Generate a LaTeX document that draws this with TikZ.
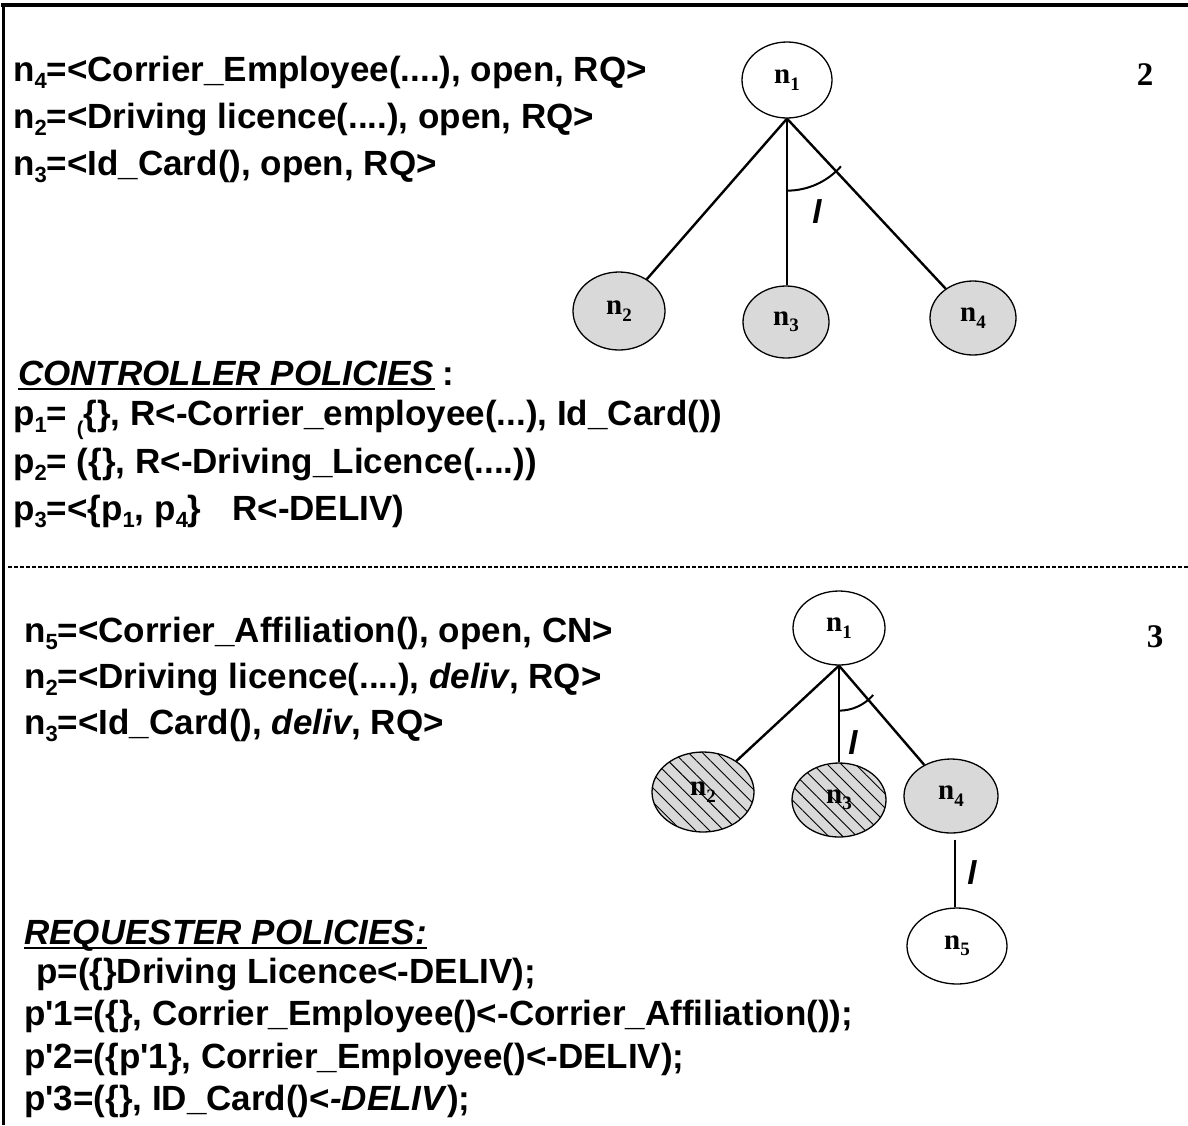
\documentclass[tikz,border=0pt]{standalone}
\usepackage{fontspec}
\setmainfont{Liberation Sans}
\newfontfamily\treefont{Liberation Serif}
\usetikzlibrary{shapes.geometric,patterns.meta,calc}

% lowered index, size given as optional argument
\newcommand\lo[2][22]{\raisebox{-0.22em}{\fontsize{#1}{#1}\selectfont #2}}

\begin{document}
\begin{tikzpicture}[x=1pt,y=-1pt,
  txt/.style={anchor=base west, inner sep=0pt, font=\fontsize{35}{40}\selectfont\bfseries},
  head/.style={txt, font=\fontsize{35}{40}\selectfont\bfseries\itshape},
  tnode/.style={ellipse, draw, line width=1.3pt, inner sep=0pt,
                font=\treefont\fontsize{29}{29}\selectfont\bfseries},
  opennode/.style={tnode, fill=white},
  greynode/.style={tnode, fill=gray!30},
  hatchnode/.style={tnode, preaction={fill=gray!30},
                    pattern={Lines[angle=-45,distance=10pt,line width=0.9pt]}},
  link/.style={line width=2.4pt},
  andarc/.style={line width=2pt},
  slashmark/.style={inner sep=0pt, font=\fontsize{33}{33}\selectfont\bfseries\itshape},
  stage/.style={inner sep=0pt, font=\treefont\fontsize{33}{33}\selectfont\bfseries}]

\useasboundingbox (0,0) rectangle (1188,1125);

% frame: top and left rules
\draw[line width=4pt] (1,5) -- (1188,5);
\draw[line width=3pt] (3,3) -- (3,1125);

% separator
\draw[line width=1.1pt, dash pattern=on 4pt off 2pt] (8,567) -- (1188,567);

% ---------- stage 2 ----------
\node[txt] (a1) at (13,81)  {n\lo{4}=<Corrier\_Employee(....), open, RQ>};
\node[txt] (a2) at (13,128) {n\lo{2}=<Driving licence(....), open, RQ>};
\node[txt] (a3) at (13,175) {n\lo{3}=<Id\_Card(), open, RQ>};

\node[stage] (s2) at (1145,75) {2};

\node[opennode, minimum width=90pt, minimum height=76pt] (t1) at (787,80)  {n\lo[19]{1}};
\node[greynode, minimum width=92pt, minimum height=78pt] (t2) at (619,311) {n\lo[19]{2}};
\node[greynode, minimum width=86pt, minimum height=72pt] (t3) at (786,322) {n\lo[19]{3}};
\node[greynode, minimum width=86pt, minimum height=74pt] (t4) at (973,318) {n\lo[19]{4}};

\draw[link] (t1.south) -- (t2);
\draw[link] (t1.south) -- (t1.south |- t3.north);
\draw[link] (t1.south) -- (t4);
\draw[andarc] ($(t1.south)+(90:72)$) arc[start angle=90, end angle=41.5, radius=72];
\node[slashmark] (l1) at (817,212) {l};

\node[head] (c1) at (18,385) {CONTROLLER POLICIES};
\draw[line width=1.6pt] ($(c1.base west)+(0,4)$) -- ($(c1.base east)+(0,4)$);
\node[txt, anchor=base west] (c1c) at ($(c1.base east)+(8,0)$) {:};
\node[txt] (p1) at (13,425) {p\lo{1}= \raisebox{-0.3em}{\fontsize{20}{20}\selectfont(}\{\}, R<-Corrier\_employee(...), Id\_Card())};
\node[txt] (p2) at (13,473) {p\lo{2}= (\{\}, R<-Driving\_Licence(....))};
\node[txt] (p3) at (13,520) {p\lo{3}=<\{p\lo{1}, p\lo{4}\}\hspace{0.6em} R<-DELIV)};

% ---------- stage 3 ----------
\node[txt] (b1) at (24,642) {n\lo{5}=<Corrier\_Affiliation(), open, CN>};
\node[txt] (b2) at (24,688) {n\lo{2}=<Driving licence(....), \textit{deliv}, RQ>};
\node[txt] (b3) at (24,734) {n\lo{3}=<Id\_Card(), \textit{deliv}, RQ>};

\node[stage] (s3) at (1155,637) {3};

\node[opennode,  minimum width=92pt,  minimum height=74pt] (u1) at (839,628) {n\lo[19]{1}};
\node[hatchnode, minimum width=102pt, minimum height=80pt] (u2) at (703,792) {n\lo[19]{2}};
\node[hatchnode, minimum width=94pt,  minimum height=74pt] (u3) at (839,800) {n\lo[19]{3}};
\node[greynode,  minimum width=94pt,  minimum height=74pt] (u4) at (951,796) {n\lo[19]{4}};
\node[opennode,  minimum width=100pt, minimum height=76pt] (u5) at (957,946) {n\lo[19]{5}};

\draw[link] (u1.south) -- (u2);
\draw[link] (u1.south) -- (u1.south |- u3.north);
\draw[link] (u1.south) -- (u4);
\draw[andarc] ($(u1.south)+(90:45)$) arc[start angle=90, end angle=40.6, radius=45];
\node[slashmark] (l2) at (853,743) {l};

\coordinate (u4b) at ($(u4.south)+(4,6)$);
\draw[link] (u4b) -- (u4b |- u5.north);
\node[slashmark] (l3) at (972,873) {l};

\node[head] (r1) at (24,944) {REQUESTER POLICIES:};
\draw[line width=1.6pt] ($(r1.base west)+(0,4)$) -- ($(r1.base east)+(0,4)$);
\node[txt] (q0) at (36,983)  {p=(\{\}Driving Licence<-DELIV);};
\node[txt] (q1) at (24,1025) {p\textquotesingle1=(\{\}, Corrier\_Employee()<-Corrier\_Affiliation());};
\node[txt] (q2) at (24,1068) {p\textquotesingle2=(\{p\textquotesingle1\}, Corrier\_Employee()<-DELIV);};
\node[txt] (q3) at (24,1110) {p\textquotesingle3=(\{\}, ID\_Card()<\textit{-DELIV});};

\end{tikzpicture}
\end{document}
